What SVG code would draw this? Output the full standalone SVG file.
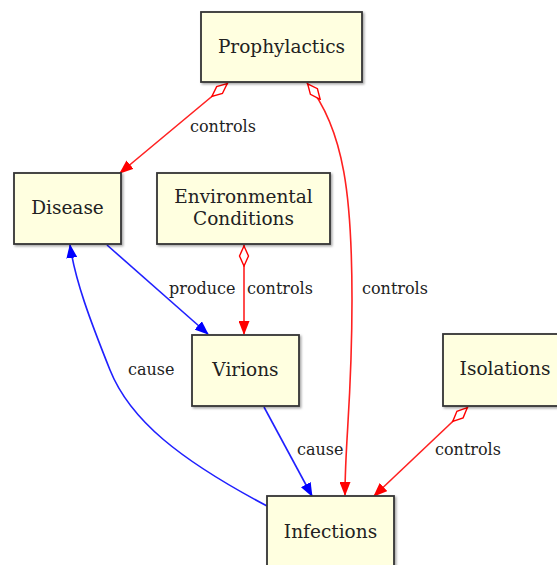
<svg xmlns="http://www.w3.org/2000/svg" width="557" height="565" viewBox="0 0 557 565">
<defs>
<marker id="ar" markerWidth="14" markerHeight="11" refX="13" refY="5.5" orient="auto" markerUnits="userSpaceOnUse"><path d="M0,0 L14,5.5 L0,11 Z" fill="#ff0000"/></marker>
<marker id="ab" markerWidth="14" markerHeight="11" refX="13" refY="5.5" orient="auto" markerUnits="userSpaceOnUse"><path d="M0,0 L14,5.5 L0,11 Z" fill="#0000ff"/></marker>
<marker id="dr" markerWidth="22" markerHeight="12" refX="0" refY="6" orient="auto" markerUnits="userSpaceOnUse"><path d="M1,6 L11,1.5 L21,6 L11,10.5 Z" fill="#ffffff" stroke="#ff0000" stroke-width="1.4"/></marker>
<filter id="sh" x="-10%" y="-10%" width="130%" height="130%"><feDropShadow dx="1.5" dy="1.5" stdDeviation="1" flood-color="#000" flood-opacity="0.35"/></filter>
</defs>
<style>
.n rect{fill:#ffffe0;stroke:#333333;stroke-width:1.8;filter:url(#sh)}
.n text{font-family:"DejaVu Serif","Liberation Serif",serif;font-size:18.5px;fill:#222;text-anchor:middle}
.e path{fill:none;stroke-width:1.6}
.r{stroke:#ff2020}
.b{stroke:#2020ff}
.l{font-family:"DejaVu Serif","Liberation Serif",serif;font-size:16px;fill:#222}
</style>
<rect width="557" height="565" fill="#ffffff"/>
<g id="edges" class="e">
<path class="r" d="M228,83 L120,173" marker-start="url(#dr)" marker-end="url(#ar)"/>
<path class="r" d="M307,83 C345,130 352,200 352,300 C352,400 345,440 345,495" marker-start="url(#dr)" marker-end="url(#ar)"/>
<path class="r" d="M244,245 L244,334" marker-start="url(#dr)" marker-end="url(#ar)"/>
<path class="r" d="M468,407 L374,496" marker-start="url(#dr)" marker-end="url(#ar)"/>
<path class="b" d="M107,245 L208,334" marker-end="url(#ab)"/>
<path class="b" d="M264,407 L312,496" marker-end="url(#ab)"/>
<path class="b" d="M267,506 C180,460 130,420 110,370 C90,320 75,280 70,245" marker-end="url(#ab)"/>
<text class="l" x="190" y="132">controls</text>
<text class="l" x="362" y="294">controls</text>
<text class="l" x="247" y="294">controls</text>
<text class="l" x="435" y="455">controls</text>
<text class="l" x="169" y="294">produce</text>
<text class="l" x="297" y="455">cause</text>
<text class="l" x="128" y="375">cause</text>
</g>
<g id="prophylactics" class="n"><rect x="201" y="12" width="161" height="70"/><text x="281.5" y="53">Prophylactics</text></g>
<g id="disease" class="n"><rect x="14" y="173" width="107" height="71"/><text x="67.5" y="214">Disease</text></g>
<g id="environmental" class="n"><rect x="157" y="173" width="173" height="71"/><text x="243.5" y="203">Environmental</text><text x="243.5" y="225">Conditions</text></g>
<g id="virions" class="n"><rect x="192" y="335" width="107" height="71"/><text x="245.5" y="376">Virions</text></g>
<g id="isolations" class="n"><rect x="443" y="334" width="120" height="72"/><text x="505" y="375">Isolations</text></g>
<g id="infections" class="n"><rect x="267" y="496" width="127" height="75"/><text x="330.5" y="538">Infections</text></g>
</svg>
